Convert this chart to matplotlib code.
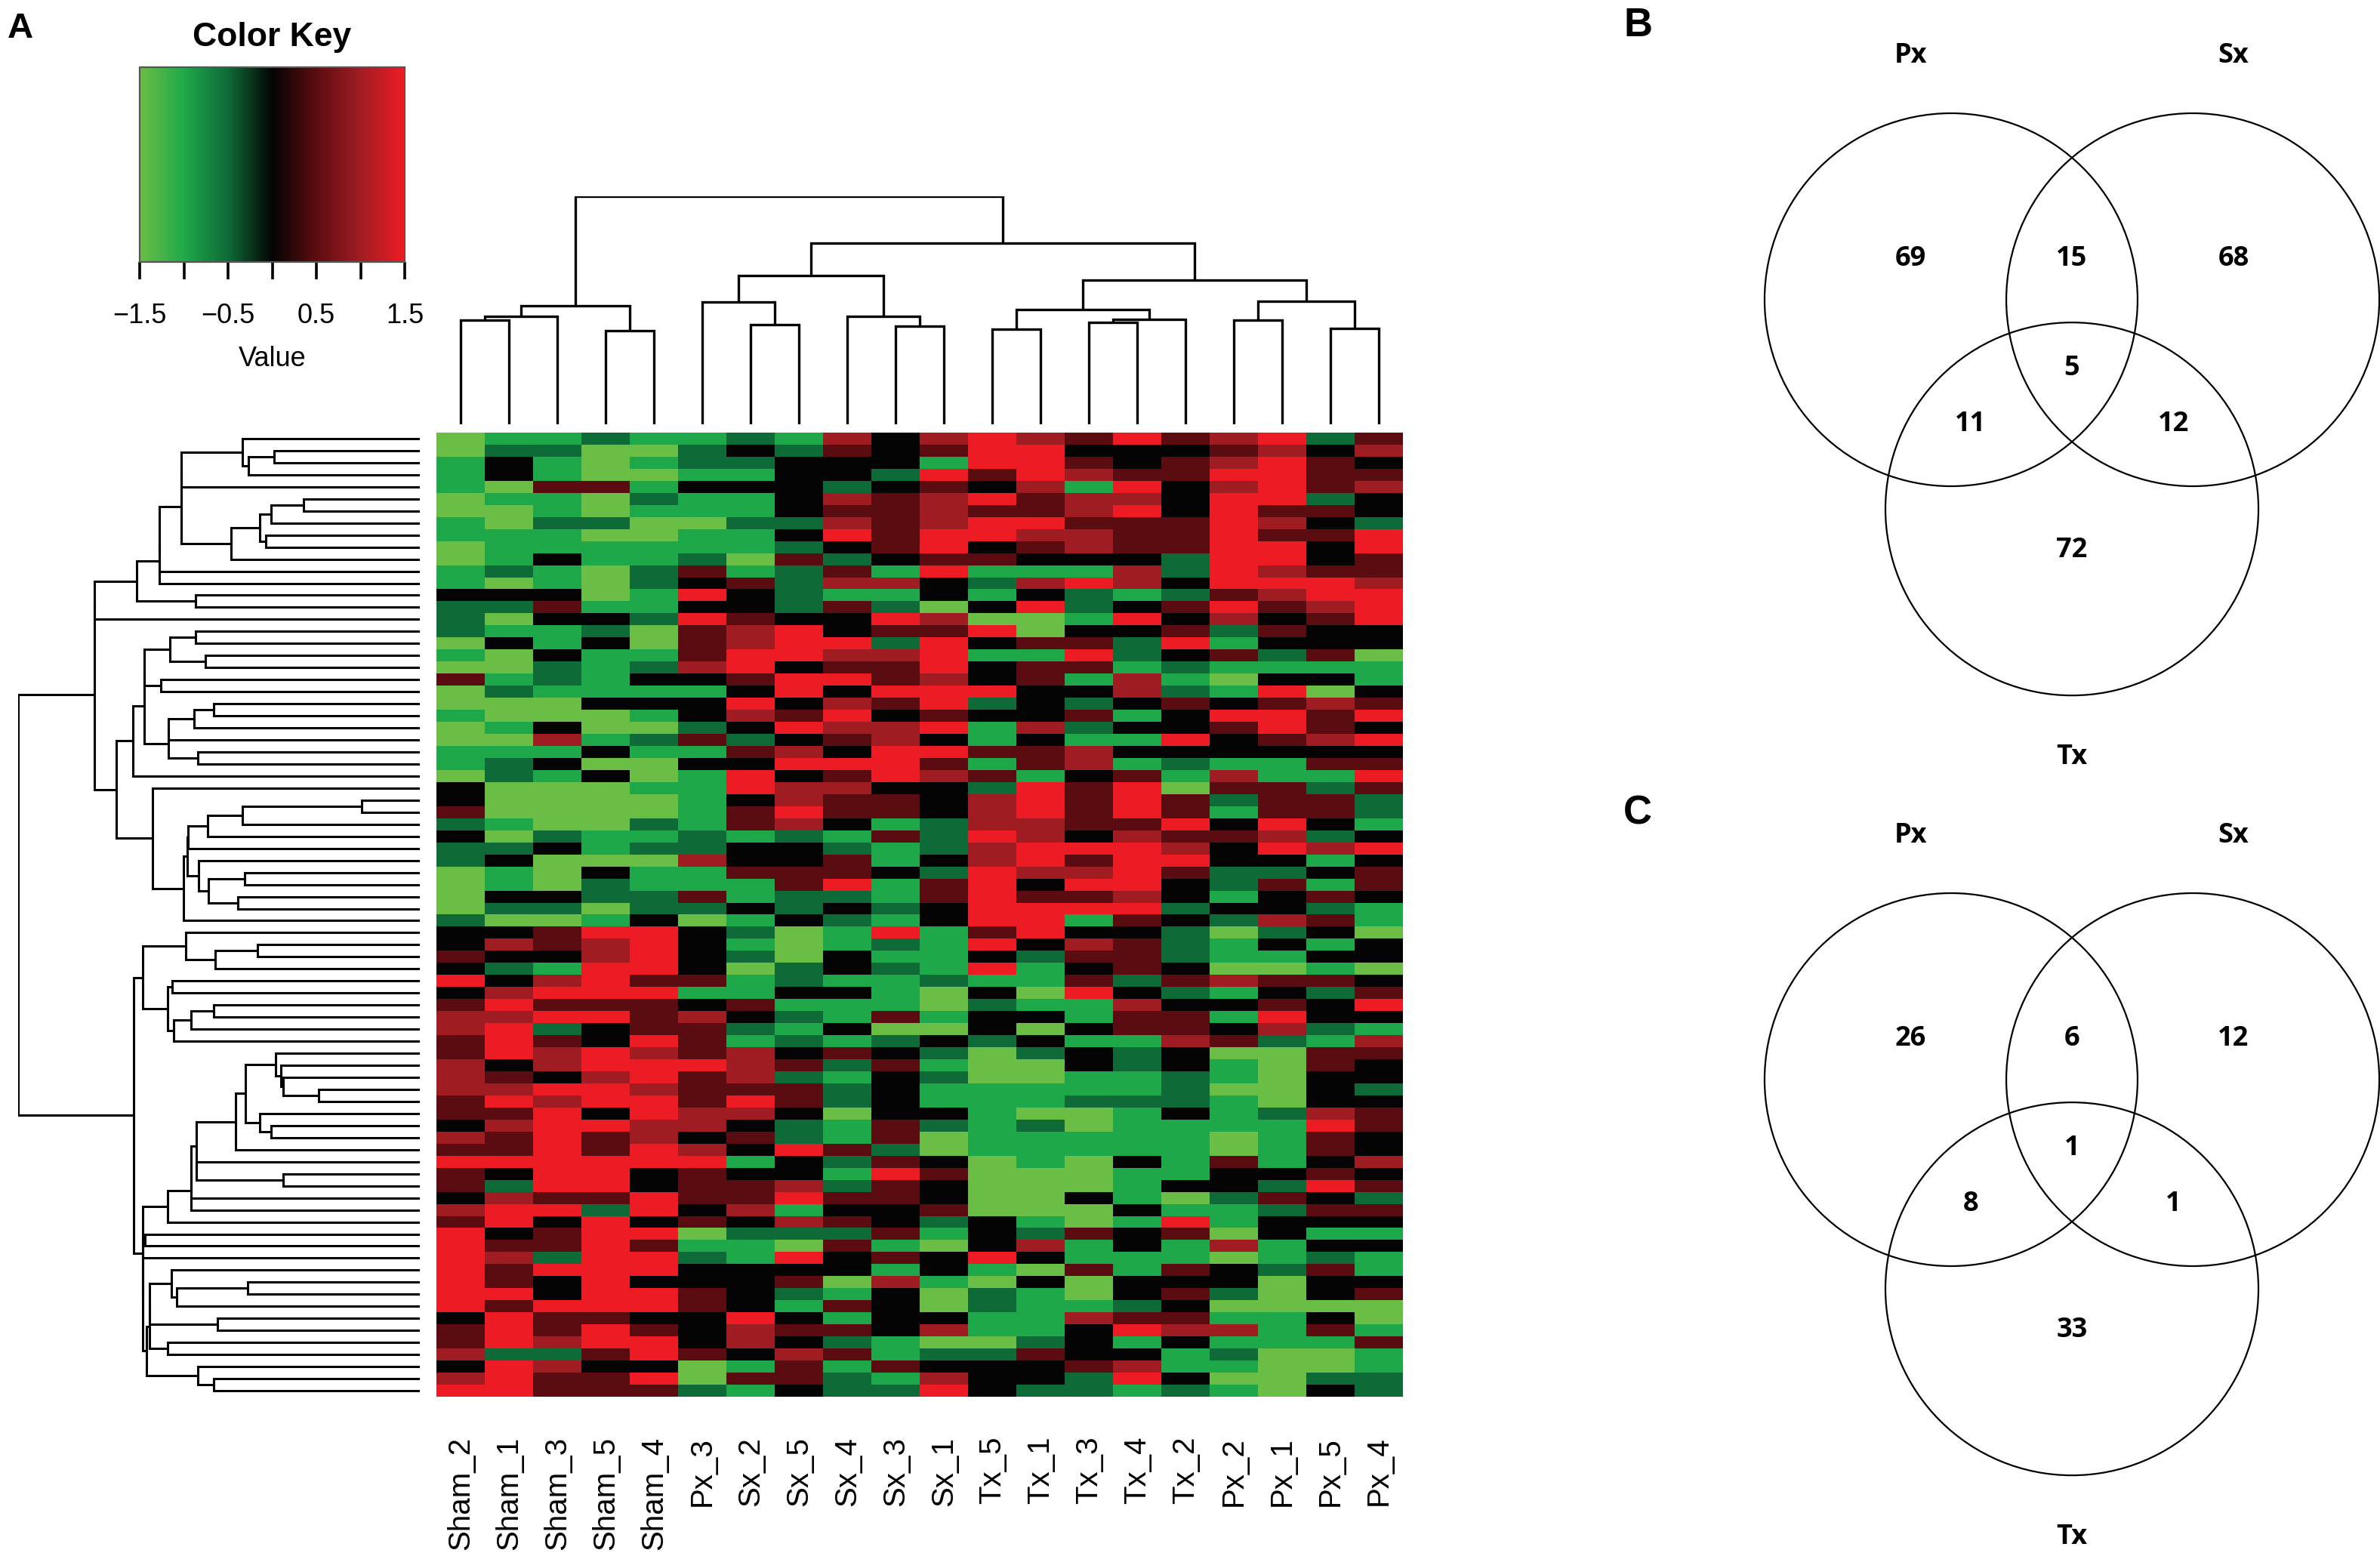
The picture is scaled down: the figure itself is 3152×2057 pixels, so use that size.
import numpy as np
import matplotlib
matplotlib.use("Agg")
import matplotlib.pyplot as plt
from matplotlib.colors import LinearSegmentedColormap, Normalize
from matplotlib.cm import ScalarMappable
from matplotlib.patches import Circle
from matplotlib import font_manager

plt.rcParams['font.family'] = ['Liberation Sans', 'DejaVu Sans']

# ---------------- data ----------------
samples = ['Sham_2', 'Sham_1', 'Sham_3', 'Sham_5', 'Sham_4', 'Px_3', 'Sx_2', 'Sx_5',
           'Sx_4', 'Sx_3', 'Sx_1', 'Tx_5', 'Tx_1', 'Tx_3', 'Tx_4', 'Tx_2',
           'Px_2', 'Px_1', 'Px_5', 'Px_4']

# heatmap value levels (index -> z-score)
level_values = [-1.5, -1.0, -0.5, 0.0, 0.5, 1.0, 1.5]

# one entry per sample column, 80 gene rows (top to bottom), as level indices
heat_cols = [
    ["00111001100113222010", "40010011033423220000", "23343634554455544354", "64435466666663445356"],
    ["12330100111203201300", "12001012200010231132", "03532356566634564544", "63256634544646662666"],
    ["12114112113113431132", "21003513100002300032", "04431564624553656666", "66646344263364452544"],
    ["20004002011000132311", "11300130300001103220", "16556664633665663644", "66642666666664664344"],
    ["10101210011221120012", "31310210010021201122", "36666464446566566556", "63366364663663466364"],
    ["12213110112436364445", "31332413111112251142", "03333413544464445535", "64443401233443334002"],
    ["23213112110143345566", "43653243663441334113", "12120114321555465343", "13445321133336553141"],
    ["12333332324222236663", "66346356355652334422", "30002231212342443226", "33561520634213435443"],
    ["54332545632451433654", "63565436454431244623", "21133131131421220114", "21243424330141424122"],
    ["33323444443151264254", "46435566634414113112", "16212111402343333442", "46443341415333311412"],
    ["54164555664633054666", "56646364533322232443", "31111200103212113200", "34334210331003502356"],
    ["66643646634121306313", "36231141425556556666", "64636132332000111111", "00000333610221102333"],
    ["56665446543153600414", "43335344166655665346", "66321101303200110211", "10000125303111124332"],
    ["43451554553162213464", "13242155344443645646", "13543461131331120011", "00030041140015333422"],
    ["63346564443551363221", "55313131466645666656", "43444235441221121111", "31113133113324613561"],
    ["43443334442232434632", "12433632104464564332", "32223423445332223111", "11301641143434531132"],
    ["54565666666664652141", "01364331542134332213", "20110513134011011100", "43321105033201512101"],
    ["65666645466565434321", "36466431144465632433", "52310434652000002111", "13242331120001110000"],
    ["23444243433466543341", "30544534124432513142", "43131423321443335644", "34634313243303410023"],
    ["45345332664456663301", "13463634642213634431", "10330346315433234433", "53424313113400141122"],
]

# column dendrogram merges: (left id, right id, height); leaves 0..19, new ids from 20
col_merges = [
    (0, 1, 4.13), (20, 2, 4.28), (3, 4, 3.70), (21, 22, 4.70),
    (6, 7, 3.95), (5, 24, 4.85), (9, 10, 3.90), (8, 26, 4.27), (25, 27, 5.88),
    (11, 12, 3.78), (13, 14, 4.03), (30, 15, 4.16), (29, 31, 4.55),
    (16, 17, 4.13), (18, 19, 3.80), (33, 34, 4.88), (32, 35, 5.70),
    (28, 36, 7.18), (23, 37, 9.03),
]

venn_sets = ['Px', 'Sx', 'Tx']
# regions: Px only, Sx only, Tx only, Px&Sx, Px&Tx, Sx&Tx, Px&Sx&Tx
venn_b_counts = [69, 68, 72, 15, 11, 12, 5]
venn_c_counts = [26, 12, 33, 6, 8, 1, 1]

key_ticks = [-1.5, -1.0, -0.5, 0.0, 0.5, 1.0, 1.5]
key_labels = ['\u22121.5', '', '\u22120.5', '', '0.5', '', '1.5']

# ---------------- derived ----------------
cols = []
for segs in heat_cols:
    s = ''.join(segs)
    cols.append([level_values[int(c)] for c in s])
n_rows = min(len(c) for c in cols)
data = np.array([c[:n_rows] for c in cols]).T  # rows x samples


def constrained_linkage(X):
    n = X.shape[0]
    D = np.sqrt(((X[:, None, :] - X[None, :, :]) ** 2).sum(-1))
    clusters = [[i] for i in range(n)]
    ids = list(range(n))
    hgt = {i: 0.0 for i in range(n)}
    merges = []
    nid = n
    while len(clusters) > 1:
        best = None
        for k in range(len(clusters) - 1):
            d = D[np.ix_(clusters[k], clusters[k + 1])].mean()
            if best is None or d < best[0]:
                best = (d, k)
        d, k = best
        a, b = ids[k], ids[k + 1]
        h = max(d, hgt[a], hgt[b])
        merges.append((a, b, h))
        hgt[nid] = h
        clusters[k] = clusters[k] + clusters[k + 1]
        del clusters[k + 1]
        ids[k] = nid
        del ids[k + 1]
        nid += 1
    return merges


row_merges = constrained_linkage(data)


def draw_dendro(ax, merges, n, orient, lw):
    pos = {i: float(i) for i in range(n)}
    hg = {i: 0.0 for i in range(n)}
    for idx, (a, b, h) in enumerate(merges):
        xs = [pos[a], pos[a], pos[b], pos[b]]
        ys = [hg[a], h, h, hg[b]]
        if orient == 'top':
            ax.plot(xs, ys, color='black', lw=lw, solid_joinstyle='miter', solid_capstyle='butt')
        else:
            ax.plot(ys, xs, color='black', lw=lw, solid_joinstyle='miter', solid_capstyle='butt')
        pos[n + idx] = (pos[a] + pos[b]) / 2.0
        hg[n + idx] = h
    return max(m[2] for m in merges)


# ---------------- figure ----------------
W, H = 3152, 2057
DPI = 200
fig = plt.figure(figsize=(W / DPI, H / DPI), dpi=DPI)


def px_axes(x0, y0, x1, y1):
    return fig.add_axes([x0 / W, 1 - y1 / H, (x1 - x0) / W, (y1 - y0) / H])


cmap = LinearSegmentedColormap.from_list('gr', [
    (0.0, '#6abd45'), (1 / 6, '#1fa84a'), (2 / 6, '#0e6a37'), (0.5, '#040404'),
    (4 / 6, '#5b0c10'), (5 / 6, '#a01d23'), (1.0, '#ed1c24')])
norm = Normalize(vmin=-1.5, vmax=1.5)

# heatmap
axh = px_axes(578, 573, 1858, 1850)
axh.imshow(data, cmap=cmap, norm=norm, aspect='auto', interpolation='nearest')
for sp in axh.spines.values():
    sp.set_visible(False)
axh.set_yticks([])
axh.set_xticks(range(len(samples)))
names = {f.name for f in font_manager.fontManager.ttflist}
if 'Liberation Sans Narrow' in names:
    lab_fam, lab_size = ['Liberation Sans Narrow', 'DejaVu Sans'], 17.5
else:
    lab_fam, lab_size = ['Liberation Sans', 'DejaVu Sans'], 14.5
axh.set_xticklabels(samples, rotation=90, fontsize=lab_size, family=lab_fam)
axh.tick_params(axis='x', length=0, pad=19)

# top dendrogram
axt = px_axes(578, 260, 1858, 562)
top_h = draw_dendro(axt, col_merges, len(samples), 'top', 1.2)
axt.set_xlim(-0.5, len(samples) - 0.5)
axt.set_ylim(0, top_h)
axt.axis('off')

# left dendrogram
axl = px_axes(24, 573, 556, 1850)
left_h = draw_dendro(axl, row_merges, n_rows, 'left', 1.1)
axl.set_xlim(left_h, 0)
axl.set_ylim(n_rows - 0.5, -0.5)
axl.axis('off')

# colour key
cax = px_axes(185, 89, 536, 347)
cb = fig.colorbar(ScalarMappable(norm=norm, cmap=cmap), cax=cax, orientation='horizontal')
cb.set_ticks(key_ticks)
cb.set_ticklabels(key_labels)
cb.outline.set_edgecolor('#555555')
cb.outline.set_linewidth(0.8)
cax.tick_params(axis='x', length=8.3, width=1.3, pad=11, labelsize=13, direction='out')
cax.set_xlabel('Value', fontsize=13, labelpad=8)
cax.set_title('Color Key', fontsize=16, fontweight='bold', pad=10)

fig.text(27 / W, 1 - 38 / H, 'A', fontsize=17, fontweight='bold', ha='center', va='center')

# Venn diagrams
R_PX = 247.0
venn_centres = [(-0.648, 0.0), (0.648, 0.0), (0.0, -1.122)]
set_label_pos = [(-0.866, 1.308), (0.866, 1.308), (0.0, -2.453)]
region_pos = [(-0.866, 0.219), (0.866, 0.219), (0.0, -1.344), (0.0, 0.219),
              (-0.543, -0.668), (0.543, -0.668), (0.0, -0.368)]
vfam = ['Open Sans', 'DejaVu Sans']


def draw_venn(mid_x, mid_y, counts, letter, letter_y):
    x0, x1 = 2150, 3152
    y0, y1 = mid_y - 370, mid_y + 620
    ax = px_axes(x0, y0, x1, y1)
    ax.set_xlim((x0 - mid_x) / R_PX, (x1 - mid_x) / R_PX)
    ax.set_ylim(-(y1 - mid_y) / R_PX, (mid_y - y0) / R_PX)
    ax.axis('off')
    for (cx, cy) in venn_centres:
        ax.add_patch(Circle((cx, cy), 1.0, fill=False, lw=0.8, ec='black'))
    for name, (lx, ly) in zip(venn_sets, set_label_pos):
        ax.text(lx, ly, name, ha='center', va='center', fontsize=13,
                fontweight='bold', family=vfam)
    for cnt, (rx, ry) in zip(counts, region_pos):
        ax.text(rx, ry, str(cnt), ha='center', va='center', fontsize=13,
                fontweight='bold', family=vfam)
    fig.text(2169 / W, 1 - letter_y / H, letter, fontsize=19, fontweight='bold',
             ha='center', va='center')


draw_venn(2744, 397, venn_b_counts, 'B', 34)
draw_venn(2744, 1430, venn_c_counts, 'C', 1077)

fig.savefig('out.png', dpi=DPI)
